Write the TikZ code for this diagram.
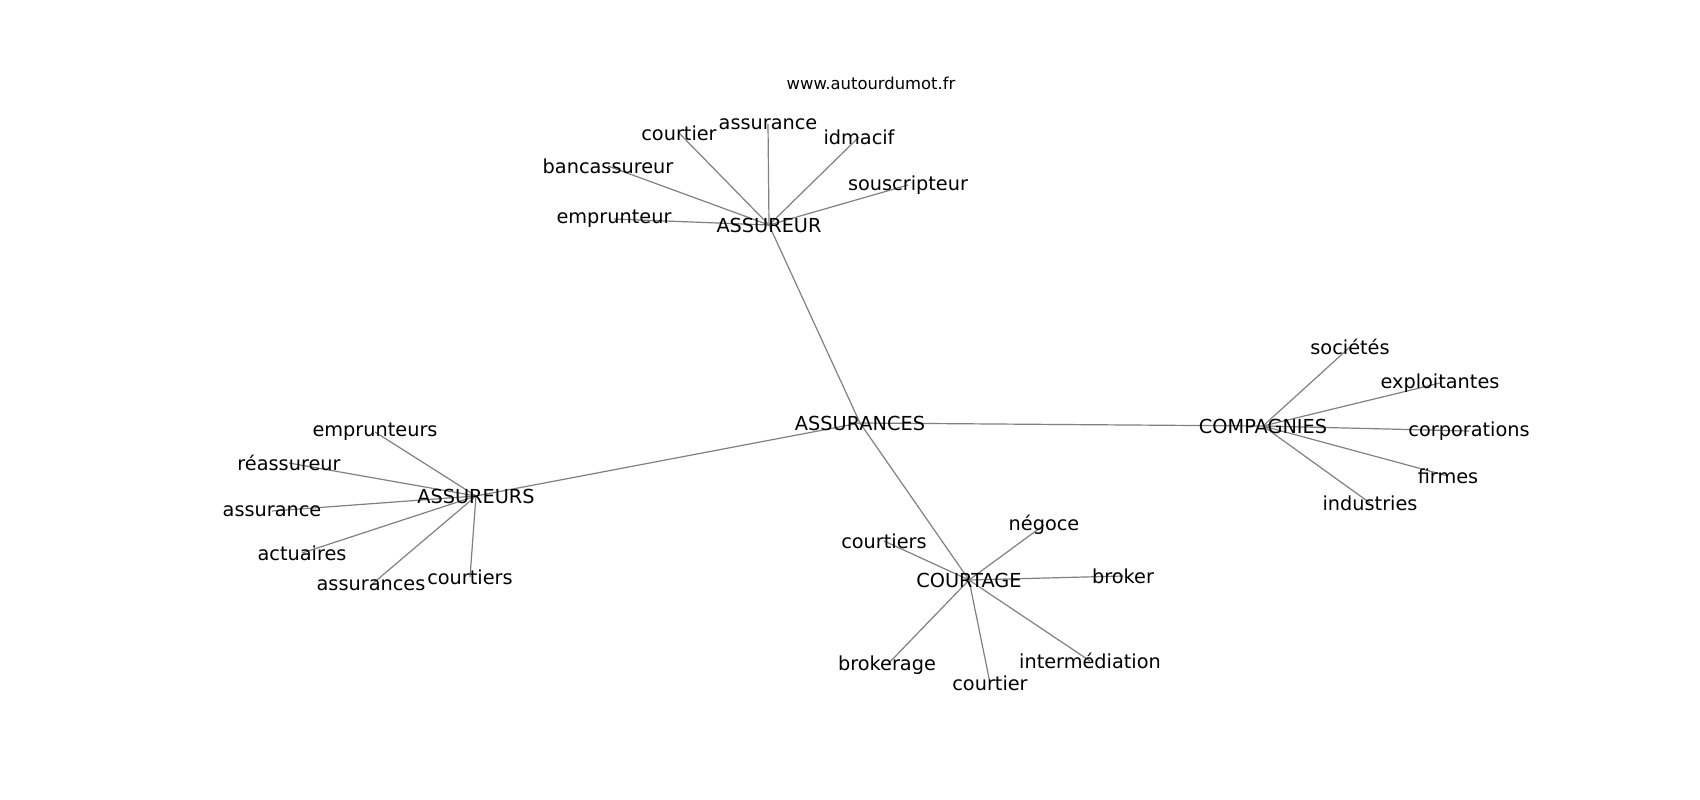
\documentclass[tikz,border=0pt]{standalone}
\usepackage{fontspec}
\setmainfont{DejaVu Sans}
\usepackage{tikz}
\usetikzlibrary{backgrounds}

\begin{document}
\begin{tikzpicture}
[x=1pt,y=-1pt]
\tikzset{
	word/.style = {inner sep = 0, font = \fontsize{19.3}{22}\selectfont},
	site/.style = {inner sep = 0, font = \fontsize{16.4}{19}\selectfont},
	link/.style = {draw = gray, line width = 1.2}
}
\useasboundingbox (0,0) rectangle (1700,800);

\node(site) [site] at (871,83) {www.autourdumot.fr};

% centre et groupes
\node(0) [word] at (860,423) {ASSURANCES};
\node(1) [word] at (769,225) {ASSUREUR};
\node(2) [word] at (476,496) {ASSUREURS};
\node(3) [word] at (1263,426) {COMPAGNIES};
\node(4) [word] at (969,580) {COURTAGE};

% ASSUREUR
\node(1-1) [word] at (679,133) {courtier};
\node(1-2) [word] at (768,124) {assurance};
\node(1-3) [word] at (859,137) {idmacif};
\node(1-4) [word] at (908,185) {souscripteur};
\node(1-5) [word] at (608,166) {bancassureur};
\node(1-6) [word] at (614,219) {emprunteur};

% ASSUREURS
\node(2-1) [word] at (375,432) {emprunteurs};
\node(2-2) [word] at (289,463) {réassureur};
\node(2-3) [word] at (272,511) {assurance};
\node(2-4) [word] at (302,553) {actuaires};
\node(2-5) [word] at (371,585) {assurances};
\node(2-6) [word] at (470,577) {courtiers};

% COMPAGNIES
\node(3-1) [word] at (1350,347) {sociétés};
\node(3-2) [word] at (1440,383) {exploitantes};
\node(3-3) [word] at (1469,431) {corporations};
\node(3-4) [word] at (1448,476) {firmes};
\node(3-5) [word] at (1370,503) {industries};

% COURTAGE
\node(4-1) [word] at (1044,525) {négoce};
\node(4-2) [word] at (1123,576) {broker};
\node(4-3) [word] at (884,541) {courtiers};
\node(4-4) [word] at (887,665) {brokerage};
\node(4-5) [word] at (990,683) {courtier};
\node(4-6) [word] at (1090,661) {intermédiation};

\begin{pgfonlayer}{background}
\path[every edge/.style={link}]
	(0.center) edge (1.center)
	(0.center) edge (2.center)
	(0.center) edge (3.center)
	(0.center) edge (4.center)
	(1.center) edge (1-1.center)
	(1.center) edge (1-2.center)
	(1.center) edge (1-3.center)
	(1.center) edge (1-4.center)
	(1.center) edge (1-5.center)
	(1.center) edge (1-6.center)
	(2.center) edge (2-1.center)
	(2.center) edge (2-2.center)
	(2.center) edge (2-3.center)
	(2.center) edge (2-4.center)
	(2.center) edge (2-5.center)
	(2.center) edge (2-6.center)
	(3.center) edge (3-1.center)
	(3.center) edge (3-2.center)
	(3.center) edge (3-3.center)
	(3.center) edge (3-4.center)
	(3.center) edge (3-5.center)
	(4.center) edge (4-1.center)
	(4.center) edge (4-2.center)
	(4.center) edge (4-3.center)
	(4.center) edge (4-4.center)
	(4.center) edge (4-5.center)
	(4.center) edge (4-6.center)
	;
\end{pgfonlayer}

\end{tikzpicture}
\end{document}
